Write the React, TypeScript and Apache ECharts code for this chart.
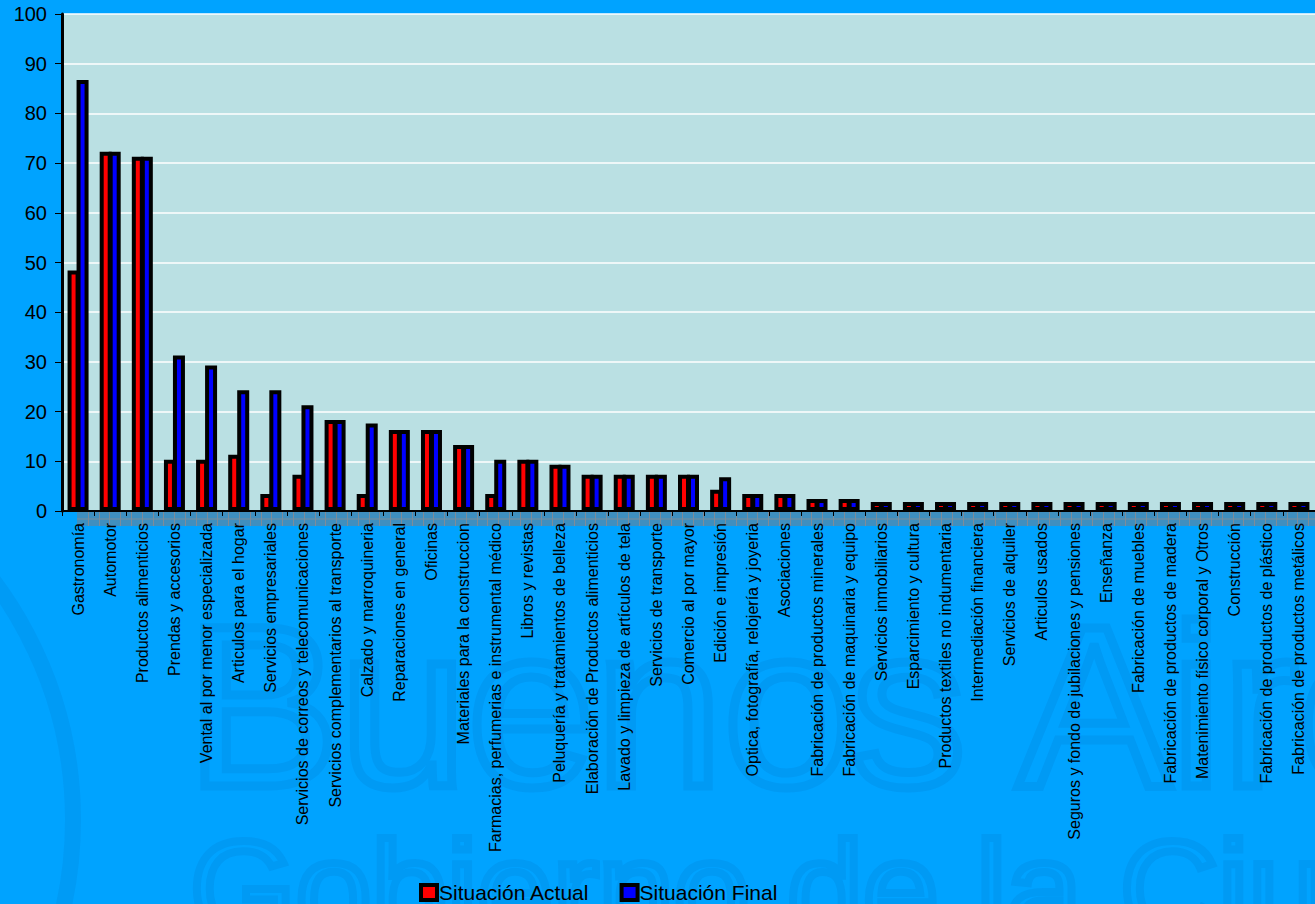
import React, { useEffect, useRef } from "react";
import * as echarts from "echarts";

const categories = [
  "Gastronomía",
  "Automotor",
  "Productos alimenticios",
  "Prendas y accesorios",
  "Vental al por menor especializada",
  "Articulos para el hogar",
  "Servicios empresariales",
  "Servicios de correos y telecomunicaciones",
  "Servicios complementarios al transporte",
  "Calzado y marroquineria",
  "Reparaciones en general",
  "Oficinas",
  "Materiales para la construccion",
  "Farmacias, perfumerias e instrumental médico",
  "Libros y revistas",
  "Peluquería y tratamientos de belleza",
  "Elaboración de Productos alimenticios",
  "Lavado y limpieza de artículos de tela",
  "Servicios de transporte",
  "Comercio al por mayor",
  "Edición e impresión",
  "Optica, fotografía, relojería y joyeria",
  "Asociaciones",
  "Fabricación de productos minerales",
  "Fabricación de maquinaria y equipo",
  "Servicios inmobiliarios",
  "Esparcimiento y cultura",
  "Productos textiles no indumentaria",
  "Intermediación financiera",
  "Servicios de alquiler",
  "Articulos usados",
  "Seguros y fondo de jubilaciones y pensiones",
  "Enseñanza",
  "Fabricación de muebles",
  "Fabricación de productos de madera",
  "Matenimiento físico corporal y Otros",
  "Construcción",
  "Fabricación de productos de plástico",
  "Fabricación de productos metálicos",
];

const situacionActual = [
  48.4, 72.3, 71.3, 10.3, 10.3, 11.3, 3.4, 7.3, 18.3, 3.4, 16.3, 16.3, 13.3, 3.4, 10.3, 9.3, 7.3, 7.3, 7.3, 7.3, 4.3, 3.4, 3.4, 2.4, 2.4,
  1.8, 1.8, 1.8, 1.8, 1.8, 1.8, 1.8, 1.8, 1.8, 1.8, 1.8, 1.8, 1.8, 1.8,
];

const situacionFinal = [
  86.7, 72.3, 71.3, 31.3, 29.3, 24.3, 24.3, 21.3, 18.3, 17.6, 16.3, 16.3, 13.3, 10.3, 10.3, 9.3, 7.3, 7.3, 7.3, 7.3, 6.8, 3.4, 3.4, 2.4, 2.4,
  1.8, 1.8, 1.8, 1.8, 1.8, 1.8, 1.8, 1.8, 1.8, 1.8, 1.8, 1.8, 1.8, 1.8,
];

const seriesNames = ["Situación Actual", "Situación Final"];
const yMin = 0;
const yMax = 100;
const yInterval = 10;

const W = 1315;
const H = 904;
const FONT = "'Liberation Sans', Arial, sans-serif";

export default function App() {
  const ref = useRef<HTMLDivElement>(null);

  useEffect(() => {
    if (!ref.current) return;
    const chart = echarts.init(ref.current, null, { renderer: "svg" });

    const gridLeft = 62;
    const gridTop = 14;
    const axisY = 511;
    const catW = 32.4;
    const gridRight = W - (gridLeft + catW * categories.length);

    // decorative "floor" band below the x axis
    const floorX0 = 77;
    const floorY0 = 512;
    const floorY1 = 526;
    const floor: any[] = [
      {
        type: "rect",
        z: -1,
        shape: { x: floorX0, y: floorY0, width: W - floorX0, height: floorY1 - floorY0 },
        style: { fill: "#3F8FBF" },
      },
      {
        type: "line",
        z: -1,
        shape: { x1: floorX0, y1: 519, x2: W, y2: 519 },
        style: { stroke: "#7D8C99", lineWidth: 1 },
      },
    ];
    for (let x = floorX0 + catW / 3; x < W; x += catW / 3) {
      floor.push({
        type: "line",
        z: -1,
        shape: { x1: Math.round(x) + 0.5, y1: floorY0, x2: Math.round(x) + 0.5, y2: floorY1 },
        style: { stroke: "#7D8C99", lineWidth: 1 },
      });
    }

    const watermark: any[] = [
      {
        type: "circle",
        z: -2,
        shape: { cx: -326, cy: 820, r: 399 },
        style: { fill: "none", stroke: "rgba(0,50,120,0.07)", lineWidth: 16 },
      },
      {
        type: "text",
        z: -2,
        x: 186,
        y: 821,
        style: {
          text: "Buenos Aires",
          font: `230px ${FONT}`,
          verticalAlign: "bottom",
          fill: "rgba(0,0,0,0)",
          stroke: "rgba(0,50,120,0.08)",
          lineWidth: 9,
        },
      },
      {
        type: "text",
        z: -2,
        x: 190,
        y: 957,
        style: {
          text: "Gobierno de la Ciudad",
          font: `136px ${FONT}`,
          verticalAlign: "bottom",
          fill: "rgba(0,0,0,0)",
          stroke: "rgba(0,50,120,0.08)",
          lineWidth: 8,
        },
      },
    ];

    const option: any = {
      animation: false,
      backgroundColor: "#00A3FF",
      textStyle: { fontFamily: FONT },
      graphic: [...watermark, ...floor],
      legend: {
        data: seriesNames,
        left: 414,
        top: 877,
        itemWidth: 16,
        itemHeight: 15,
        itemGap: 30,
        icon: "rect",
        itemStyle: { borderColor: "#000", borderWidth: 4 },
        textStyle: { fontSize: 21, color: "#000", fontFamily: FONT, padding: [2, 0, 0, -3] },
      },
      grid: {
        left: gridLeft,
        top: gridTop,
        right: gridRight,
        bottom: H - axisY,
        show: true,
        backgroundColor: "#BAE0E3",
        borderWidth: 0,
        containLabel: false,
      },
      xAxis: {
        type: "category",
        data: categories,
        axisLine: { show: true, lineStyle: { color: "#000", width: 2 } },
        axisTick: { show: true, length: 5, lineStyle: { color: "#000" }, interval: 0 },
        axisLabel: {
          interval: 0,
          rotate: 90,
          fontSize: 16,
          color: "#000",
          margin: 12,
          fontFamily: FONT,
        },
        splitLine: { show: false },
      },
      yAxis: {
        type: "value",
        min: yMin,
        max: yMax,
        interval: yInterval,
        axisLine: { show: true, lineStyle: { color: "#000", width: 3 } },
        axisTick: { show: true, length: 7, lineStyle: { color: "#000" } },
        axisLabel: { fontSize: 20, color: "#000", margin: 15, fontFamily: FONT },
        splitLine: { show: true, lineStyle: { color: "#FFFFFF", width: 1.5 } },
      },
      series: [
        {
          name: seriesNames[0],
          type: "bar",
          data: situacionActual,
          barWidth: 12,
          barGap: "-25%",
          itemStyle: { color: "#FF0000", borderColor: "#000", borderWidth: 4 },
        },
        {
          name: seriesNames[1],
          type: "bar",
          data: situacionFinal,
          barWidth: 12,
          barGap: "-25%",
          itemStyle: { color: "#0000FF", borderColor: "#000", borderWidth: 4 },
        },
      ],
    };

    chart.setOption(option);
    return () => chart.dispose();
  }, []);

  return (
    <div style={{ position: "absolute", left: 0, top: 0, width: W, height: H, overflow: "hidden" }}>
      <div ref={ref} style={{ width: W, height: H }} />
    </div>
  );
}
